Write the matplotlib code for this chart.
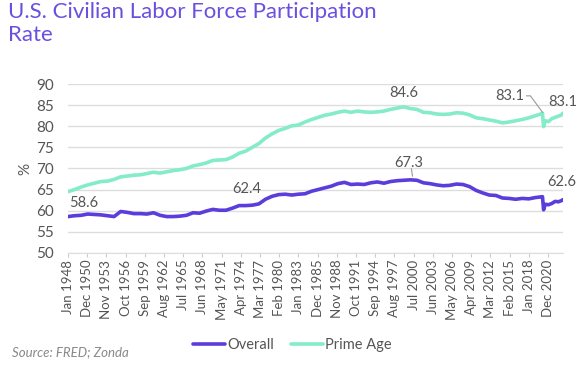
import matplotlib.pyplot as plt

# Point dates (Jan of each year, then a few extra points around 2020-2023)
dates = ['1948-01', '1949-01', '1950-01', '1951-01', '1952-01', '1953-01', '1954-01', '1955-01',
         '1956-01', '1957-01', '1958-01', '1959-01', '1960-01', '1961-01', '1962-01', '1963-01',
         '1964-01', '1965-01', '1966-01', '1967-01', '1968-01', '1969-01', '1970-01', '1971-01',
         '1972-01', '1973-01', '1974-01', '1975-01', '1976-01', '1977-01', '1978-01', '1979-01',
         '1980-01', '1981-01', '1982-01', '1983-01', '1984-01', '1985-01', '1986-01', '1987-01',
         '1988-01', '1989-01', '1990-01', '1991-01', '1992-01', '1993-01', '1994-01', '1995-01',
         '1996-01', '1997-01', '1998-01', '1999-01', '2000-01', '2001-01', '2002-01', '2003-01',
         '2004-01', '2005-01', '2006-01', '2007-01', '2008-01', '2009-01', '2010-01', '2011-01',
         '2012-01', '2013-01', '2014-01', '2015-01', '2016-01', '2017-01', '2018-01', '2019-01',
         '2020-01', '2020-02', '2020-04', '2020-07', '2021-01', '2021-07', '2022-01', '2022-07',
         '2023-01', '2023-03']

overall = [58.6, 58.8, 58.9, 59.2, 59.1, 59.0, 58.8, 58.6,
           59.8, 59.6, 59.3, 59.3, 59.2, 59.5, 58.9, 58.6,
           58.6, 58.7, 58.9, 59.5, 59.4, 59.9, 60.3, 60.1,
           60.1, 60.6, 61.2, 61.2, 61.3, 61.6, 62.7, 63.4,
           63.8, 63.9, 63.7, 63.9, 64.0, 64.6, 65.0, 65.4,
           65.8, 66.4, 66.7, 66.2, 66.3, 66.2, 66.6, 66.8,
           66.5, 66.9, 67.1, 67.2, 67.3, 67.2, 66.6, 66.4,
           66.1, 65.9, 66.0, 66.3, 66.2, 65.7, 64.8, 64.2,
           63.7, 63.6, 63.0, 62.9, 62.7, 62.9, 62.8, 63.1,
           63.3, 63.3, 60.2, 61.5, 61.4, 61.7, 62.2, 62.1,
           62.4, 62.6]

prime_age = [64.5, 65.0, 65.6, 66.1, 66.5, 66.9, 67.0, 67.4,
             68.0, 68.2, 68.4, 68.5, 68.8, 69.1, 68.9, 69.2,
             69.5, 69.7, 70.0, 70.6, 70.9, 71.3, 71.9, 72.0,
             72.1, 72.7, 73.6, 74.1, 75.0, 75.9, 77.2, 78.2,
             79.0, 79.5, 80.1, 80.3, 81.0, 81.6, 82.1, 82.6,
             82.9, 83.3, 83.6, 83.3, 83.6, 83.4, 83.3, 83.4,
             83.6, 84.0, 84.3, 84.6, 84.2, 84.0, 83.3, 83.2,
             82.9, 82.8, 82.9, 83.2, 83.1, 82.7, 82.0, 81.8,
             81.5, 81.2, 80.8, 81.0, 81.3, 81.6, 82.0, 82.5,
             83.0, 83.1, 79.9, 81.3, 81.1, 81.8, 82.1, 82.4,
             82.7, 83.1]

tick_labels = ['Jan 1948', 'Dec 1950', 'Nov 1953', 'Oct 1956', 'Sep 1959', 'Aug 1962',
               'Jul 1965', 'Jun 1968', 'May 1971', 'Apr 1974', 'Mar 1977', 'Feb 1980',
               'Jan 1983', 'Dec 1985', 'Nov 1988', 'Oct 1991', 'Sep 1994', 'Aug 1997',
               'Jul 2000', 'Jun 2003', 'May 2006', 'Apr 2009', 'Mar 2012', 'Feb 2015',
               'Jan 2018', 'Dec 2020']

PURPLE = '#5a3ddb'
MINT = '#84ecc9'
GREY = '#555555'

plt.rcParams['font.family'] = ['Lato', 'DejaVu Sans']


def month_index(d):
    y, m = d.split('-')
    return (int(y) - 1948) * 12 + int(m) - 1


x = [month_index(d) for d in dates]

fig = plt.figure(figsize=(5.79, 3.67), dpi=100)
ax = fig.add_axes([0.1174, 0.311, 0.8546, 0.460])

ax.plot(x, overall, color=PURPLE, linewidth=2.6, label='Overall', solid_capstyle='round')
ax.plot(x, prime_age, color=MINT, linewidth=2.6, label='Prime Age', solid_capstyle='round')

ax.set_xlim(0, x[-1])
ax.set_ylim(50, 90)
ax.set_yticks(range(50, 91, 5))
ax.set_xticks(range(0, 35 * len(tick_labels), 35))
ax.set_xticklabels(tick_labels, rotation=90, fontsize=9.5, color=GREY)
ax.tick_params(axis='y', length=0, labelsize=11, labelcolor=GREY, pad=10)
ax.tick_params(axis='x', length=3, color='#cccccc', pad=2)
ax.grid(axis='y', color='#dddddd', linewidth=1)
ax.set_axisbelow(True)
for s in ['left', 'right', 'top']:
    ax.spines[s].set_visible(False)
ax.spines['bottom'].set_color('#dddddd')
ax.set_ylabel('%', fontsize=11, color=GREY, labelpad=3)

# value labels
lab = dict(fontsize=10.5, color=GREY)
ax.text(2, 61.8, '58.6', ha='left', va='center', **lab)
ax.text(325, 65.1, '62.4', ha='center', va='center', **lab)
ax.text(622, 71.3, '67.3', ha='center', va='center', **lab)
ax.plot([626, 628], [69.9, 68.2], color='#999999', linewidth=0.8)
ax.text(612, 87.9, '84.6', ha='center', va='center', **lab)
ax.text(806, 87.2, '83.1', ha='center', va='center', **lab)
ax.plot([836, 843, 865], [87.2, 87.2, 83.3], color='#999999', linewidth=0.8)
ax.text(902, 85.7, '83.1', ha='center', va='center', **lab)
ax.text(901, 66.8, '62.6', ha='center', va='center', **lab)

fig.text(0.014, 0.935, 'U.S. Civilian Labor Force Participation\nRate', fontsize=16,
         color='#6a4fe0', ha='left', va='center', linespacing=1.2)
fig.text(0.02, 0.04, 'Source: FRED; Zonda', fontsize=9.5, color='#888888', style='italic',
         ha='left', va='center')

fig.legend(loc='center', bbox_to_anchor=(0.505, 0.06), ncol=2, frameon=False,
           fontsize=10.5, labelcolor=GREY, handlelength=2.2, handletextpad=0.1, columnspacing=1.2)

plt.savefig('out.png', dpi=100)
